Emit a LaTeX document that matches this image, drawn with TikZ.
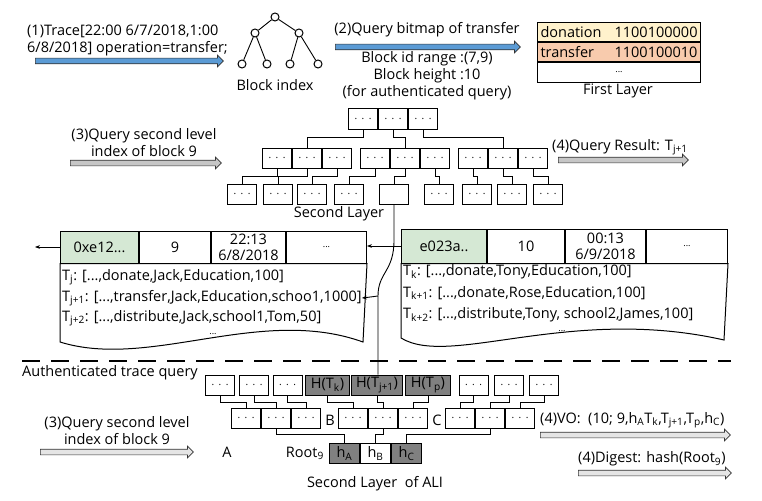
\documentclass[tikz,border=0pt]{standalone}
\usepackage{fontspec}
\setmainfont{Open Sans}
\usepackage{tikz}
\usetikzlibrary{arrows.meta, positioning, shapes.arrows}

\definecolor{arrblue}{RGB}{91,155,213}
\definecolor{hashgreen}{RGB}{213,232,212}
\definecolor{rowyellow}{RGB}{255,242,204}
\definecolor{rowpeach}{RGB}{248,203,173}
\definecolor{hashgray}{RGB}{128,128,128}
\newcommand{\threedots}{.\hspace{4.5pt}.\hspace{4.5pt}.}
\newcommand{\tsub}[1]{\textsubscript{#1}}

\begin{document}
\begin{tikzpicture}[
  x=1pt, y=-1pt,
  txt/.style     = {font=\fontsize{14.5}{17}\selectfont, inner sep=0pt, align=center},
  dotbox/.style  = {draw, line width=1pt, minimum width=29pt, minimum height=20pt,
                    inner sep=0pt, font=\fontsize{10}{10}\selectfont},
  hashbox/.style = {dotbox, fill=hashgray, inner xsep=5pt,
                    font=\fontsize{14.5}{17}\selectfont},
  cell/.style    = {draw, line width=1pt, minimum width=#1, minimum height=32pt,
                    inner sep=0pt, font=\fontsize{14.5}{16}\selectfont, align=center},
  tabrow/.style  = {draw, line width=1pt, fill=#1, minimum height=19pt, text width=157pt,
                    inner xsep=3pt, inner ysep=0pt, font=\fontsize{14.5}{17}\selectfont},
  fat/.style     = {single arrow, draw=black!80, line width=0.7pt, fill=#1, inner xsep=0pt,
                    inner ysep=2.5pt, single arrow head extend=3pt, anchor=tail},
  ball/.style    = {circle, draw, line width=1pt, minimum size=8pt, inner sep=0pt},
  link/.style    = {line width=0.9pt},
  elbow/.style   = {to path={-- ++(0,#1) -| (\tikztotarget)}},
  elbow/.default = 8
]
\useasboundingbox (0,0) rectangle (762,500);

% step 1 and 2
\node[txt, align=left, anchor=west] (trace) at (27,40)
  {(1)Trace[22:00 6/7/2018,1:00\\6/8/2018] operation=transfer;};
\node[fat=arrblue, minimum height=188pt] (a1) at (35,61) {};

\node[ball] (bi)  at (275,17) {};
\node[ball] (bil) at (255,33) {};
\node[ball] (bir) at (299,33) {};
\node[ball] (bi1) at (242,64) {};
\node[ball] (bi2) at (267,64) {};
\node[ball] (bi3) at (290,64) {};
\node[ball] (bi4) at (318,64) {};
\draw[link] (bi) -- (bil) (bi) -- (bir) (bil) -- (bi1) (bil) -- (bi2)
            (bir) -- (bi3) (bir) -- (bi4);
\node[txt] (bilabel) at (275,85) {Block index};

\node[txt] (q2) at (427,30) {(2)Query bitmap of transfer};
\node[fat=arrblue, minimum height=185pt] (a2) at (335,47) {};
\node[txt] (range) at (427,76)
  {Block id range :(7,9)\\Block height :10\\(for authenticated query)};

\node[tabrow=rowyellow, anchor=north west] (don) at (537,22) {donation\hfill 1100100000};
\node[tabrow=rowpeach, below=0pt of don] (tra) {transfer\hfill 1100100010};
\node[tabrow=white, below=0pt of tra, minimum height=20pt, align=center] (etc)
  {\fontsize{9}{9}\selectfont...};
\node[txt] (first) at (618,91) {First Layer};

% step 3 and 4, second layer
\node[txt] (q3) at (144,143) {(3)Query second level\\index of block 9};
\node[fat=gray!45, minimum height=151pt] (a3) at (70,163) {};
\node[txt, anchor=west] (res) at (552,147) {(4)Query Result: T\tsub{j+1}};
\node[fat=gray!45, minimum height=130pt] (a4) at (558,160) {};

\foreach \g/\x/\y in {r/348/119, a/262/158, b/360/158, c/458/158} {
  \node[dotbox, anchor=west] (\g1) at (\x,\y) {\threedots};
  \node[dotbox, right=0pt of \g1] (\g2) {\threedots};
  \node[dotbox, right=0pt of \g2] (\g3) {\threedots};
}
\foreach \n/\x in {1/242, 2/278, 3/312, 4/349, 6/439, 7/477, 8/512, 9/548}
  \node[dotbox] (l\n) at (\x,194) {\threedots};
\node[dotbox] (l5) at (394,194) {};

\draw[link] (r1.south) to[elbow] (a2.north);
\draw[link] (r2.south) to[elbow] (b2.north);
\draw[link] (r3.south) to[elbow] (c2.north);
\foreach \p/\ch in {a1/l1, a2/l2, a3/l3, b1/l4, b2/l5, b3/l6, c1/l7, c2/l8, c3/l9}
  \draw[link] (\p.south) to[elbow] (\ch.north);
\node[txt] (second) at (339,214) {Second Layer};

% blocks 9 and 10
\node[cell=78pt, fill=hashgreen, anchor=west] (Lhash) at (60,247) {0xe12...};
\node[cell=71pt, right=0pt of Lhash] (Lnum) {9};
\node[cell=74pt, right=0pt of Lnum] (Ltime) {22:13\\6/8/2018};
\node[cell=80pt, right=0pt of Ltime] (Lmore) {\fontsize{9}{9}\selectfont...};
\draw[line width=1pt] (Lhash.south west) -- (Lmore.south east) -- (363,342)
  .. controls (260,305) and (150,370) .. (60,342) -- cycle;
\node[txt, anchor=west] (Tj)  at (62,277) {T\tsub{j}: [...,donate,Jack,Education,100]};
\node[txt, anchor=west] (Tj1) at (62,298) {T\tsub{j+1}: [...,transfer,Jack,Education,schoo1,1000]};
\node[txt, anchor=west] (Tj2) at (62,318) {T\tsub{j+2}: [...,distribute,Jack,school1,Tom,50]};
\node[txt] (Ldots) at (213,334) {\fontsize{9}{9}\selectfont...};

\node[cell=85pt, minimum height=34pt, fill=hashgreen, anchor=west] (Rhash) at (401,246) {e023a..};
\node[cell=77pt, minimum height=34pt, right=0pt of Rhash] (Rnum) {10};
\node[cell=80pt, minimum height=34pt, right=0pt of Rnum] (Rtime) {00:13\\6/9/2018};
\node[cell=81pt, minimum height=34pt, right=0pt of Rtime] (Rmore) {\fontsize{9}{9}\selectfont...};
\draw[line width=1pt] (Rhash.south west) -- (Rmore.south east) -- (724,340)
  .. controls (570,305) and (450,368) .. (401,338) -- cycle;
\node[txt, anchor=west] (Tk)  at (403,272) {T\tsub{k}: [...,donate,Tony,Education,100]};
\node[txt, anchor=west] (Tk1) at (403,293) {T\tsub{k+1}: [...,donate,Rose,Education,100]};
\node[txt, anchor=west] (Tk2) at (403,315) {T\tsub{k+2}: [...,distribute,Tony, school2,James,100]};
\node[txt] (Rdots) at (562,331) {\fontsize{9}{9}\selectfont...};

\coordinate (prev) at (35,247);
\draw[link, -{Stealth[length=5pt]}] (Lhash.west) -- (prev);
\draw[link, -{Stealth[length=5pt]}] (Rhash.west) -- (Rhash.west -| Lmore.east);

% authenticated part
\coordinate (dl) at (22,361);
\coordinate (dr) at (731,361);
\draw[line width=2.2pt, dash pattern=on 18pt off 11pt] (dl) -- (dr);
\node[txt, anchor=west] (auth) at (22,373) {Authenticated trace query};

\foreach \n/\x in {1/220, 2/254, 3/287.5, 7/473.5, 8/509, 9/544}
  \node[dotbox] (t\n) at (\x,385) {\threedots};
\node[hashbox] (Hk) at (327.5,385) {H(T\tsub{k})};
\node[hashbox] (Hj) at (377,385) {H(T\tsub{j+1})};
\node[hashbox] (Hp) at (428,385) {H(T\tsub{p})};

\foreach \g/\x in {u/231, v/338, w/445} {
  \node[dotbox, anchor=west] (\g1) at (\x,418) {\threedots};
  \node[dotbox, right=0pt of \g1] (\g2) {\threedots};
  \node[dotbox, right=0pt of \g2] (\g3) {\threedots};
}
\node[txt] (lbB) at (330,420) {B};
\node[txt] (lbC) at (437,420) {C};
\node[txt] (lbA) at (227,452) {A};

\node[hashbox, minimum width=30pt, inner xsep=0pt, anchor=west] (hA) at (329,453.5) {h\tsub{A}};
\node[dotbox, minimum width=30pt, font=\fontsize{14.5}{17}\selectfont, right=0pt of hA] (hB) {h\tsub{B}};
\node[hashbox, minimum width=30pt, inner xsep=0pt, right=0pt of hB] (hC) {h\tsub{C}};
\node[txt, left=5pt of hA] (root) {Root\tsub{9}};

\foreach \p/\ch in {t1/u1, t2/u2, t3/u3, Hk/v1, Hj/v2, Hp/v3, t7/w1, t8/w2, t9/w3}
  \draw[link] (\p.south) to[elbow=7] (\ch.north);
\foreach \p/\ch in {u2/hA, v2/hB, w2/hC}
  \draw[link] (\p.south) to[elbow=6] (\ch.north);

\coordinate (jct) at (378,296);
\draw[link] (l5.south) -- (394,240) .. controls (394,272) and (378,272) .. (jct)
  -- (jct |- Hj.north);
\draw[link, -{Stealth[length=5pt]}] (jct) .. controls (372,297) .. (Tj1.east);

\node[txt] (q3b) at (117,431) {(3)Query second level\\index of block 9};
\node[fat=gray!20, minimum height=153pt] (a5) at (40,452) {};
\node[txt, anchor=west] (vo) at (540,420)
  {(4)VO:~~(10; 9,h\tsub{A}T\tsub{k},T\tsub{j+1},T\tsub{p},h\tsub{C})};
\node[fat=gray!20, minimum height=190pt] (a6) at (540,435) {};
\node[txt, anchor=west] (dig) at (578,459) {(4)Digest: hash(Root\tsub{9})};
\node[fat=gray!20, minimum height=153pt] (a7) at (578,473) {};
\node[txt] (ali) at (375,484) {Second Layer~~of ALI};
\end{tikzpicture}
\end{document}
